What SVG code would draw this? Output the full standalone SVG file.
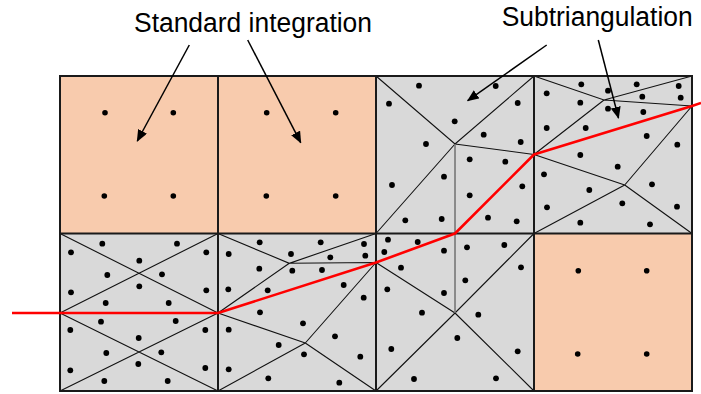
<svg xmlns="http://www.w3.org/2000/svg" width="701" height="394" viewBox="0 0 701 394">
<defs>
<style>
.std{fill:#F8CBAD}
.sub{fill:#D9D9D9}
.tri{stroke:#111;stroke-width:1.1;fill:none}
.vert{stroke:#777;stroke-width:1.6;fill:none}
.grid{stroke:#1a1a1a;stroke-width:2;fill:none}
.crack{stroke:#FF0000;stroke-width:2.6;fill:none;stroke-linejoin:round}
.pts circle{fill:#000}
.lbl{font-family:"Liberation Sans",Arial,sans-serif;font-size:27px;fill:#000}
.arr{stroke:#000;stroke-width:1.5;fill:none}
</style>
<marker id="ah" viewBox="0 0 12 10" refX="11" refY="5" markerWidth="12" markerHeight="10" markerUnits="userSpaceOnUse" orient="auto">
<path d="M0,0 L12,5 L0,10 z" fill="#000"/>
</marker>
</defs>
<rect width="701" height="394" fill="#fff"/>

<g id="cell-A">
<rect class="std" x="60" y="76" width="158" height="157.5"/>
<g class="pts"><circle cx="105" cy="112.7" r="2.8"/><circle cx="173.3" cy="112.7" r="2.8"/><circle cx="104.3" cy="196" r="2.8"/><circle cx="173.3" cy="196" r="2.8"/></g>
</g>
<g id="cell-B">
<rect class="std" x="218" y="76" width="158" height="157.5"/>
<g class="pts"><circle cx="266.7" cy="112.7" r="2.8"/><circle cx="335.7" cy="112.7" r="2.8"/><circle cx="266.3" cy="196" r="2.8"/><circle cx="335.7" cy="196" r="2.8"/></g>
</g>
<g id="cell-H">
<rect class="std" x="534" y="233.5" width="158" height="157.5"/>
<g class="pts"><circle cx="578.3" cy="270.7" r="2.8"/><circle cx="646.7" cy="270.7" r="2.8"/><circle cx="577.7" cy="354" r="2.8"/><circle cx="646.7" cy="354" r="2.8"/></g>
</g>

<g id="cell-C">
<rect class="sub" x="376" y="76" width="158" height="157.5"/>
<path class="tri" d="M376,76 L455,144 L534,76 M455,144 L376,233.5 M455,144 L534,154.5"/>
<g class="pts">
<circle cx="419" cy="85.7" r="2.9"/><circle cx="495.7" cy="86" r="2.9"/><circle cx="389" cy="103.7" r="2.9"/><circle cx="517.7" cy="103" r="2.9"/>
<circle cx="454.7" cy="121.3" r="2.9"/><circle cx="483.7" cy="134.7" r="2.9"/><circle cx="426" cy="144" r="2.9"/><circle cx="520.7" cy="142" r="2.9"/>
<circle cx="469.7" cy="159.3" r="2.9"/><circle cx="505.3" cy="161.7" r="2.9"/><circle cx="444" cy="176.7" r="2.9"/><circle cx="392" cy="185" r="2.9"/>
<circle cx="522.3" cy="186.3" r="2.9"/><circle cx="469.7" cy="195.3" r="2.9"/><circle cx="405.3" cy="220.3" r="2.9"/><circle cx="441.7" cy="219" r="2.9"/>
<circle cx="488" cy="217.7" r="2.9"/><circle cx="516.7" cy="221.3" r="2.9"/>
</g>
</g>

<g id="cell-D">
<rect class="sub" x="534" y="76" width="158" height="157.5"/>
<path class="tri" d="M534,76 L604,100 L692,76 M604,100 L692,106 M604,100 L534,154.5 M692,106 L624.7,185 M534,154.5 L624.7,185 M624.7,185 L534,233.5 M624.7,185 L692,233.5"/>
<g class="pts">
<circle cx="581.3" cy="84.3" r="2.9"/><circle cx="636.7" cy="84.3" r="2.9"/><circle cx="678.7" cy="86" r="2.9"/><circle cx="546.7" cy="93.3" r="2.9"/>
<circle cx="608" cy="90.7" r="2.9"/><circle cx="642.3" cy="96.7" r="2.9"/><circle cx="680.7" cy="97.7" r="2.9"/><circle cx="580.3" cy="102.7" r="2.9"/>
<circle cx="608" cy="108.7" r="2.9"/><circle cx="643.3" cy="112" r="2.9"/><circle cx="546.7" cy="128" r="2.9"/><circle cx="585.7" cy="128" r="2.9"/>
<circle cx="646.7" cy="136" r="2.9"/><circle cx="677.3" cy="144.7" r="2.9"/><circle cx="580.3" cy="155" r="2.9"/><circle cx="617.7" cy="166.7" r="2.9"/>
<circle cx="544" cy="174.3" r="2.9"/><circle cx="652" cy="184.3" r="2.9"/><circle cx="589.3" cy="190" r="2.9"/><circle cx="622.3" cy="203.3" r="2.9"/>
<circle cx="547" cy="207.3" r="2.9"/><circle cx="677" cy="206.7" r="2.9"/><circle cx="580.3" cy="222.7" r="2.9"/><circle cx="650" cy="224.3" r="2.9"/>
</g>
</g>

<g id="cell-E">
<rect class="sub" x="60" y="233.5" width="158" height="157.5"/>
<path class="tri" d="M60,233.5 L218,313 M60,313 L218,233.5 M60,313 L218,391 M60,391 L218,313"/>
<g class="pts">
<circle cx="102.3" cy="243.7" r="2.9"/><circle cx="177" cy="243.7" r="2.9"/><circle cx="71" cy="252.3" r="2.9"/><circle cx="206.3" cy="252.3" r="2.9"/>
<circle cx="139.3" cy="260.7" r="2.9"/><circle cx="107.3" cy="275" r="2.9"/><circle cx="162" cy="274.3" r="2.9"/><circle cx="139.3" cy="286.3" r="2.9"/>
<circle cx="71" cy="292.3" r="2.9"/><circle cx="206.3" cy="290.3" r="2.9"/><circle cx="105.7" cy="303" r="2.9"/><circle cx="168.7" cy="303" r="2.9"/>
<circle cx="101" cy="321.7" r="2.9"/><circle cx="175.7" cy="321" r="2.9"/><circle cx="70.3" cy="330" r="2.9"/><circle cx="205.3" cy="330" r="2.9"/>
<circle cx="138.7" cy="338" r="2.9"/><circle cx="106.3" cy="353" r="2.9"/><circle cx="161.3" cy="352.3" r="2.9"/><circle cx="138.3" cy="364" r="2.9"/>
<circle cx="70.3" cy="370.3" r="2.9"/><circle cx="205.3" cy="368" r="2.9"/><circle cx="104.3" cy="381" r="2.9"/><circle cx="167.7" cy="381" r="2.9"/>
</g>
</g>

<g id="cell-F">
<rect class="sub" x="218" y="233.5" width="158" height="157.5"/>
<path class="tri" d="M218,233.5 L289.3,263.3 L376,233.5 M289.3,263.3 L376,262.5 M289.3,263.3 L218,313 M376,262.5 L305.3,343 M218,313 L305.3,343 M305.3,343 L218,391 M305.3,343 L376,391"/>
<g class="pts">
<circle cx="259.7" cy="242.3" r="2.9"/><circle cx="320.7" cy="242.3" r="2.9"/><circle cx="364" cy="244" r="2.9"/><circle cx="228.7" cy="254" r="2.9"/>
<circle cx="291" cy="254" r="2.9"/><circle cx="330.3" cy="257.3" r="2.9"/><circle cx="365.3" cy="255.7" r="2.9"/><circle cx="259.3" cy="268.7" r="2.9"/>
<circle cx="292.3" cy="270.7" r="2.9"/><circle cx="322" cy="270" r="2.9"/><circle cx="228.3" cy="289.3" r="2.9"/><circle cx="267.7" cy="290.3" r="2.9"/>
<circle cx="343.7" cy="285" r="2.9"/><circle cx="363.7" cy="297.7" r="2.9"/><circle cx="260" cy="312.3" r="2.9"/><circle cx="303" cy="323.3" r="2.9"/>
<circle cx="228.7" cy="329.7" r="2.9"/><circle cx="335" cy="336.3" r="2.9"/><circle cx="278.7" cy="345" r="2.9"/><circle cx="304" cy="354.3" r="2.9"/>
<circle cx="360.3" cy="356.7" r="2.9"/><circle cx="228.7" cy="369.3" r="2.9"/><circle cx="268.3" cy="378.3" r="2.9"/><circle cx="339.3" cy="382.7" r="2.9"/>
</g>
</g>

<g id="cell-G">
<rect class="sub" x="376" y="233.5" width="158" height="157.5"/>
<path class="tri" d="M376,262.5 L455,313 L534,233.5 M455,313 L376,391 M455,313 L534,391"/>
<g class="pts">
<circle cx="388" cy="239.7" r="2.9"/><circle cx="417.7" cy="242" r="2.9"/><circle cx="384.3" cy="252" r="2.9"/><circle cx="444" cy="250.7" r="2.9"/>
<circle cx="467" cy="247.3" r="2.9"/><circle cx="504.3" cy="245" r="2.9"/><circle cx="401" cy="267.7" r="2.9"/><circle cx="521" cy="267.3" r="2.9"/>
<circle cx="465.3" cy="280.3" r="2.9"/><circle cx="387.3" cy="289.3" r="2.9"/><circle cx="444" cy="293" r="2.9"/><circle cx="422" cy="312.7" r="2.9"/>
<circle cx="478.3" cy="314.7" r="2.9"/><circle cx="457.3" cy="338" r="2.9"/><circle cx="391.3" cy="349" r="2.9"/><circle cx="517.7" cy="351.3" r="2.9"/>
<circle cx="414" cy="379" r="2.9"/><circle cx="496" cy="378.3" r="2.9"/>
</g>
</g>

<path class="vert" d="M455,144 L455,313"/>

<g id="grid">
<rect class="grid" x="60" y="76" width="632" height="315"/>
<path class="grid" d="M218,76 V391 M376,76 V391 M534,76 V391 M60,233.5 H692"/>
</g>

<g id="crack">
<polyline class="crack" points="12,313 218,313 376,262.5 455,233.5 534,154.5 692,106 701,103"/>
</g>

<g id="connectors">
<line class="arr" x1="189.3" y1="45" x2="137.3" y2="141" marker-end="url(#ah)"/>
<line class="arr" x1="247.7" y1="40" x2="300.7" y2="142.7" marker-end="url(#ah)"/>
<line class="arr" x1="546.7" y1="45" x2="467.7" y2="100.7" marker-end="url(#ah)"/>
<line class="arr" x1="598.3" y1="40" x2="618.5" y2="118" marker-end="url(#ah)"/>
</g>

<g id="label-standard"><text class="lbl" x="134" y="31.7" textLength="238" lengthAdjust="spacingAndGlyphs">Standard integration</text></g>
<g id="label-subtri"><text class="lbl" x="501.7" y="26" textLength="191" lengthAdjust="spacingAndGlyphs">Subtriangulation</text></g>
</svg>
